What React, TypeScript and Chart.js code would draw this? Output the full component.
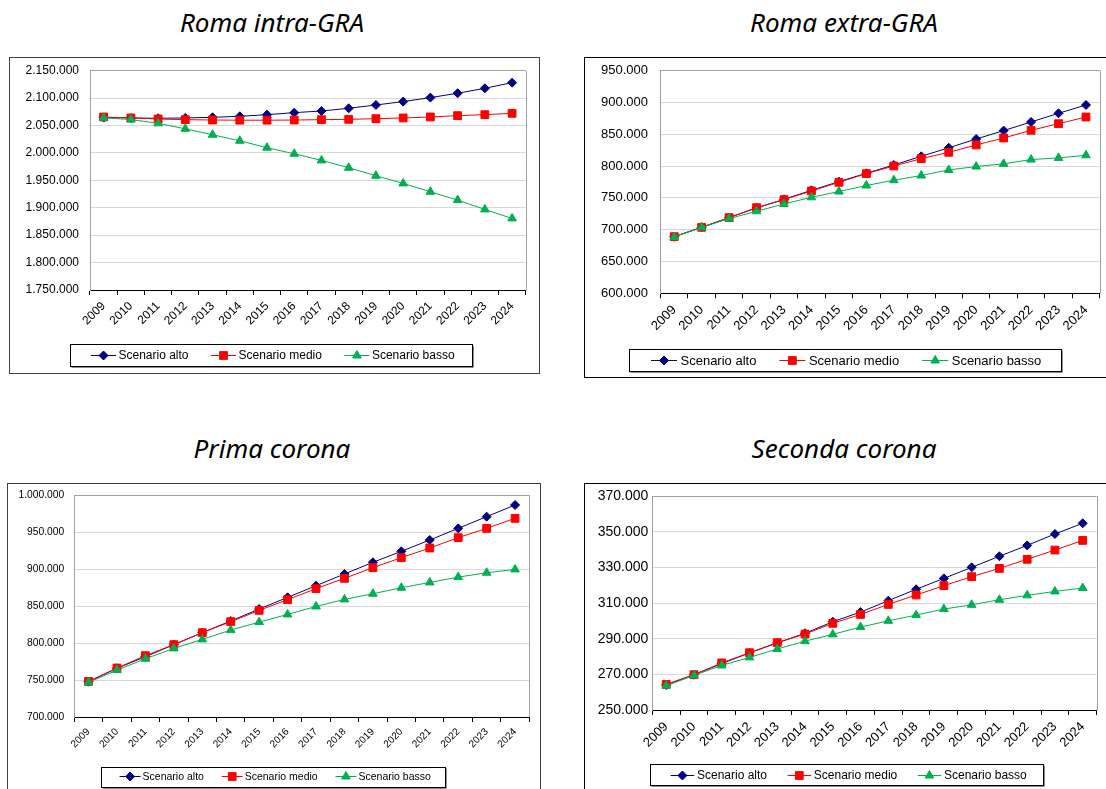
import React, { useEffect, useRef } from 'react';
import { Chart, registerables } from 'chart.js';
import { drawPoint } from 'chart.js/helpers';

Chart.register(...registerables);

// ---------------- DATA ----------------
const YEARS = ['2009', '2010', '2011', '2012', '2013', '2014', '2015', '2016', '2017', '2018', '2019', '2020', '2021', '2022', '2023', '2024'];
const SERIES_LABELS = ['Scenario alto', 'Scenario medio', 'Scenario basso'];

const INTRA_ALTO = [2064500, 2063800, 2063200, 2063800, 2065000, 2066800, 2069800, 2073500, 2076500, 2081400, 2087500, 2093600, 2100900, 2108900, 2117900, 2128200];
const INTRA_MEDIO = [2065600, 2063800, 2061900, 2060700, 2060100, 2059700, 2059700, 2060000, 2060700, 2061300, 2062500, 2063800, 2065600, 2068000, 2069800, 2072300];
const INTRA_BASSO = [2064000, 2061000, 2054000, 2044000, 2033200, 2022200, 2009500, 1998500, 1986400, 1973000, 1958400, 1944400, 1929200, 1914000, 1897000, 1880600];

const EXTRA_ALTO = [689100, 703800, 719000, 734200, 747800, 761900, 775600, 788700, 801800, 815400, 828800, 842600, 855800, 869400, 883000, 896100];
const EXTRA_MEDIO = [689100, 703800, 719000, 734700, 747300, 760900, 774500, 788200, 800200, 811700, 821700, 833200, 844200, 856300, 866700, 877200];
const EXTRA_BASSO = [688500, 703500, 717500, 729000, 740500, 751000, 760000, 769500, 777800, 785200, 794000, 799300, 803500, 810300, 812900, 817000];

const PRIMA_ALTO = [747800, 765900, 781600, 797900, 814100, 829900, 846100, 861900, 877700, 893500, 909300, 924200, 939500, 955300, 971100, 986900];
const PRIMA_MEDIO = [748200, 766300, 783000, 797900, 814100, 829000, 844300, 858800, 873700, 887600, 902100, 915600, 928700, 942700, 955300, 968800];
const PRIMA_BASSO = [746800, 763500, 778800, 792800, 805000, 817600, 828400, 838800, 849600, 859100, 866800, 874900, 882100, 889300, 895200, 899700];

const SECONDA_ALTO = [264000, 269800, 276000, 282000, 287600, 293000, 299500, 304900, 311300, 317700, 323800, 330000, 336200, 342300, 348700, 354700];
const SECONDA_MEDIO = [264400, 269800, 276400, 282100, 287800, 292600, 298600, 303600, 309200, 314500, 319700, 324800, 329400, 334500, 339700, 345100];
const SECONDA_BASSO = [263600, 269400, 275000, 279500, 284200, 288600, 292400, 296500, 300000, 303200, 306600, 309000, 311800, 314300, 316500, 318400];

// axis ranges [min, max, step]
const INTRA_AXIS = [1750000, 2150000, 50000];
const EXTRA_AXIS = [600000, 950000, 50000];
const PRIMA_AXIS = [700000, 1000000, 50000];
const SECONDA_AXIS = [250000, 370000, 20000];

// ---------------- STYLE ----------------
const COLORS = ['#000080', '#FF0000', '#00B050'];
const POINT_STYLES = ['rectRot', 'rect', 'triangle'];
const POINT_RADII = [4.5, 5.5, 5];
const FONT = '"Liberation Sans", Arial, Helvetica, sans-serif';

const fmt = (v: number) => Math.round(v).toString().replace(/\B(?=(\d{3})+(?!\d))/g, '.');

type LegendCfg = { left: number; top: number; h: number; font: number; markerLen: number; textGap: number; itemGap: number; padL: number; padR: number };
type PanelCfg = {
  title: string; titleX: number; titleTop: number;
  x0: number; y0: number; w: number; h: number;
  plot: { l: number; r: number; t: number; b: number };
  axis: number[];
  series: number[][];
  yFont: number; xFont: number; yPad: number; xPad: number;
  legend: LegendCfg;
  border: string;
};

const PANELS: PanelCfg[] = [
  {
    title: 'Roma intra-GRA', titleX: 272, titleTop: 9,
    x0: 9, y0: 57, w: 531, h: 317,
    plot: { l: 90, r: 525.7, t: 70.7, b: 290 },
    axis: INTRA_AXIS, series: [INTRA_ALTO, INTRA_MEDIO, INTRA_BASSO],
    yFont: 12, xFont: 12, yPad: 11, xPad: 4,
    legend: { left: 70, top: 344, h: 22, font: 12, markerLen: 25, textGap: 2.5, itemGap: 22.5, padL: 21, padR: 17 },
    border: '#404040',
  },
  {
    title: 'Roma extra-GRA', titleX: 844, titleTop: 9,
    x0: 584, y0: 57, w: 531, h: 321,
    plot: { l: 660.5, r: 1099.7, t: 70.7, b: 293.3 },
    axis: EXTRA_AXIS, series: [EXTRA_ALTO, EXTRA_MEDIO, EXTRA_BASSO],
    yFont: 13, xFont: 13, yPad: 12.5, xPad: 4,
    legend: { left: 628.6, top: 349, h: 22, font: 13, markerLen: 26, textGap: 3.5, itemGap: 23, padL: 22.4, padR: 19 },
    border: '#000000',
  },
  {
    title: 'Prima corona', titleX: 272, titleTop: 435,
    x0: 7, y0: 483, w: 534, h: 312,
    plot: { l: 74.3, r: 529.3, t: 495.3, b: 717 },
    axis: PRIMA_AXIS, series: [PRIMA_ALTO, PRIMA_MEDIO, PRIMA_BASSO],
    yFont: 10.3, xFont: 10, yPad: 10, xPad: 4,
    legend: { left: 101, top: 766.7, h: 19.5, font: 10.5, markerLen: 21, textGap: 2, itemGap: 17.8, padL: 18.6, padR: 13.7 },
    border: '#404040',
  },
  {
    title: 'Seconda corona', titleX: 844, titleTop: 435,
    x0: 584, y0: 483, w: 531, h: 312,
    plot: { l: 652.3, r: 1096.6, t: 496, b: 710 },
    axis: SECONDA_AXIS, series: [SECONDA_ALTO, SECONDA_MEDIO, SECONDA_BASSO],
    yFont: 14, xFont: 13, yPad: 4, xPad: 4,
    legend: { left: 649.8, top: 764.3, h: 21.4, font: 12, markerLen: 23.5, textGap: 2.8, itemGap: 20.5, padL: 20.9, padR: 15.7 },
    border: '#000000',
  },
];

// ---------------- PLUGINS ----------------
const plotBorderPlugin = {
  id: 'plotBorder',
  beforeDatasetsDraw(chart: any) {
    const { ctx, chartArea } = chart;
    ctx.save();
    ctx.strokeStyle = '#a0a0a0';
    ctx.lineWidth = 1;
    const x = Math.round(chartArea.right) + 0.5;
    ctx.beginPath();
    ctx.moveTo(x, chartArea.top);
    ctx.lineTo(x, chartArea.bottom);
    ctx.stroke();
    ctx.restore();
  },
};

const boxLegendPlugin = {
  id: 'boxLegend',
  afterDraw(chart: any, _args: any, opts: any) {
    const { ctx } = chart;
    const L = opts;
    ctx.save();
    ctx.font = `${L.font}px ${FONT}`;
    ctx.textBaseline = 'middle';
    ctx.textAlign = 'left';
    const cy = Math.round(L.top + L.h / 2);
    let x = L.left + L.padL;
    chart.data.datasets.forEach((ds: any, i: number) => {
      if (i > 0) x += L.itemGap;
      ctx.strokeStyle = ds.borderColor;
      ctx.fillStyle = ds.borderColor;
      ctx.lineWidth = 1;
      ctx.beginPath();
      ctx.moveTo(x, cy + 0.5);
      ctx.lineTo(x + L.markerLen, cy + 0.5);
      ctx.stroke();
      drawPoint(ctx, { pointStyle: ds.pointStyle, radius: ds.pointRadius, rotation: 0, borderWidth: 1 } as any, x + L.markerLen / 2, cy + 0.5);
      x += L.markerLen + L.textGap;
      ctx.fillStyle = '#000';
      ctx.fillText(ds.label, x, cy + 1);
      x += ctx.measureText(ds.label).width;
    });
    const right = x + L.padR;
    const lx = Math.round(L.left) + 0.5;
    const ty = Math.round(L.top) + 0.5;
    const w = Math.round(right - L.left);
    const h = Math.round(L.h);
    ctx.strokeStyle = '#8c8c8c';
    ctx.beginPath();
    ctx.moveTo(lx + w + 1, ty + 1);
    ctx.lineTo(lx + w + 1, ty + h + 1);
    ctx.lineTo(lx + 1, ty + h + 1);
    ctx.stroke();
    ctx.strokeStyle = '#000';
    ctx.strokeRect(lx, ty, w, h);
    ctx.restore();
  },
};

// ---------------- COMPONENTS ----------------
function Panel({ cfg }: { cfg: PanelCfg }) {
  const ref = useRef<HTMLCanvasElement>(null);

  useEffect(() => {
    const canvas = ref.current;
    if (!canvas) return;
    const [yMin, yMax, yStep] = cfg.axis;
    const yAxisWidth = cfg.plot.l - cfg.x0;
    const padTop = cfg.plot.t - cfg.y0;
    const padRight = cfg.x0 + cfg.w - cfg.plot.r;
    const xAxisHeight = cfg.y0 + cfg.h - cfg.plot.b;

    const datasets = SERIES_LABELS.map((label, i) => ({
      label,
      data: cfg.series[i],
      borderColor: COLORS[i],
      backgroundColor: COLORS[i],
      borderWidth: 1,
      pointStyle: POINT_STYLES[i],
      pointRadius: POINT_RADII[i],
      pointBorderWidth: 1,
      pointBackgroundColor: COLORS[i],
      pointBorderColor: COLORS[i],
      tension: 0,
      fill: false,
      order: 3 - i,
    }));

    const chart = new Chart(canvas, {
      type: 'line',
      data: { labels: YEARS, datasets },
      plugins: [plotBorderPlugin, boxLegendPlugin],
      options: {
        responsive: false,
        animation: false,
        devicePixelRatio: 1,
        layout: { padding: { left: 0, top: padTop, right: padRight, bottom: 0 } },
        plugins: {
          legend: { display: false },
          tooltip: { enabled: false },
          title: { display: false },
          boxLegend: {
            left: cfg.legend.left - cfg.x0,
            top: cfg.legend.top - cfg.y0,
            h: cfg.legend.h,
            font: cfg.legend.font,
            markerLen: cfg.legend.markerLen,
            textGap: cfg.legend.textGap,
            itemGap: cfg.legend.itemGap,
            padL: cfg.legend.padL,
            padR: cfg.legend.padR,
          },
        } as any,
        scales: {
          x: {
            type: 'category',
            offset: true,
            grid: { offset: true, drawOnChartArea: false, drawTicks: true, tickLength: 5, color: '#000', lineWidth: 1 },
            border: { display: true, color: '#000', width: 1 },
            ticks: {
              autoSkip: false,
              maxRotation: 45,
              minRotation: 45,
              color: '#000',
              padding: cfg.xPad,
              font: { family: FONT, size: cfg.xFont },
            },
            afterFit: (s: any) => {
              s.height = xAxisHeight;
              s.paddingLeft = 0;
              s.paddingRight = 0;
            },
          },
          y: {
            type: 'linear',
            min: yMin,
            max: yMax,
            ticks: {
              stepSize: yStep,
              color: '#000',
              padding: cfg.yPad,
              font: { family: FONT, size: cfg.yFont },
              callback: (v: any) => fmt(Number(v)),
            },
            grid: {
              drawTicks: false,
              lineWidth: 1,
              color: (c: any) => {
                if (!c.tick) return '#d9d9d9';
                if (c.tick.value === yMin) return 'rgba(0,0,0,0)';
                if (c.tick.value === yMax) return '#a0a0a0';
                return '#d9d9d9';
              },
            },
            border: { display: true, color: '#a0a0a0', width: 1 },
            afterFit: (s: any) => {
              s.width = yAxisWidth;
              s.paddingTop = 0;
              s.paddingBottom = 0;
            },
          },
        },
      } as any,
    });
    return () => chart.destroy();
  }, [cfg]);

  return (
    <>
      <div
        style={{
          position: 'absolute',
          left: cfg.titleX - 250,
          top: cfg.titleTop,
          width: 500,
          textAlign: 'center',
          fontFamily: '"Noto Sans", "Open Sans", sans-serif',
          fontStyle: 'italic',
          fontSize: 26,
          lineHeight: '26px',
          color: '#000',
        }}
      >
        {cfg.title}
      </div>
      <canvas
        ref={ref}
        width={cfg.w}
        height={cfg.h}
        style={{ position: 'absolute', left: cfg.x0, top: cfg.y0, width: cfg.w, height: cfg.h }}
      />
      <div
        style={{
          position: 'absolute',
          left: cfg.x0,
          top: cfg.y0,
          width: cfg.w,
          height: cfg.h,
          border: `1px solid ${cfg.border}`,
          boxSizing: 'border-box',
          pointerEvents: 'none',
        }}
      />
    </>
  );
}

export default function App() {
  return (
    <div
      style={{
        position: 'fixed',
        left: 0,
        top: 0,
        width: 1106,
        height: 789,
        overflow: 'hidden',
        background: '#fff',
      }}
    >
      {PANELS.map((p) => (
        <Panel key={p.title} cfg={p} />
      ))}
    </div>
  );
}
